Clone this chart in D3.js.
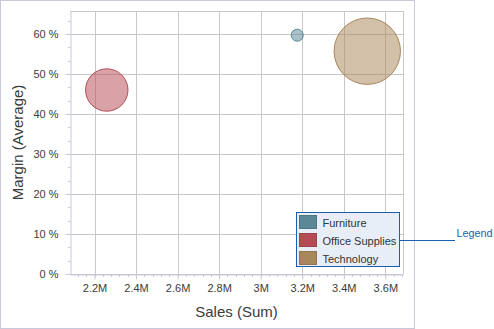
<!DOCTYPE html>
<html>
<head>
<meta charset="utf-8">
<script src="https://cdn.jsdelivr.net/npm/d3@7"></script>
<style>
  html, body { margin: 0; padding: 0; background: #fff; }
  svg { display: block; font-family: "Liberation Sans", Arial, sans-serif; }
</style>
</head>
<body>
<svg id="chart" width="494" height="329"></svg>
<script>
// Bubble chart: average margin vs. total sales per product category
const categories = ["Furniture", "Office Supplies", "Technology"];
const sales = [3.176e6, 2.259e6, 3.513e6];        // Sales (Sum)
const margins = [0.597, 0.46, 0.557];             // Margin (Average)
const weights = [12, 42.4, 66.4];                 // bubble size
const colors = ["#5b8896", "#b44c56", "#a8875a"];

const xTicks = [2.2e6, 2.4e6, 2.6e6, 2.8e6, 3.0e6, 3.2e6, 3.4e6, 3.6e6];
const xTickLabels = ["2.2M", "2.4M", "2.6M", "2.8M", "3M", "3.2M", "3.4M", "3.6M"];
const yTicks = [0, 0.1, 0.2, 0.3, 0.4, 0.5, 0.6];
const yTickLabels = ["0 %", "10 %", "20 %", "30 %", "40 %", "50 %", "60 %"];

const W = 494, H = 329;
const plot = { left: 70, top: 11, right: 403, bottom: 274 };

const svg = d3.select("#chart");

// outer frame
svg.append("rect")
  .attr("x", 0.5).attr("y", 0.5)
  .attr("width", 414).attr("height", 328)
  .attr("fill", "#fff").attr("stroke", "#c9c9dc");

const x = d3.scaleLinear().domain([2.082e6, 3.685e6]).range([plot.left, plot.right]);
const y = d3.scaleLinear().domain([0, 0.6575]).range([plot.bottom, plot.top]);
const r = d3.scaleLinear().domain([0, d3.max(weights)]).range([0, 33.2]);

const g = svg.append("g");

// grid
g.append("g").selectAll("line").data(xTicks).join("line")
  .attr("x1", d => Math.round(x(d)) + 0.5).attr("x2", d => Math.round(x(d)) + 0.5)
  .attr("y1", plot.top).attr("y2", plot.bottom)
  .attr("stroke", "#c8c8c8");
g.append("g").selectAll("line").data(yTicks).join("line")
  .attr("y1", d => Math.round(y(d)) + 0.5).attr("y2", d => Math.round(y(d)) + 0.5)
  .attr("x1", plot.left).attr("x2", plot.right)
  .attr("stroke", "#c8c8c8");
// plot top / right edges
g.append("line").attr("x1", plot.left).attr("x2", plot.right + 0.5)
  .attr("y1", plot.top + 0.5).attr("y2", plot.top + 0.5).attr("stroke", "#c8c8c8");
g.append("line").attr("x1", plot.right + 0.5).attr("x2", plot.right + 0.5)
  .attr("y1", plot.top).attr("y2", plot.bottom).attr("stroke", "#c8c8c8");

// minor ticks
const xMinor = d3.range(2.08e6, 3.69e6, 0.04e6).filter(v => x(v) >= plot.left && x(v) <= plot.right);
const yMinor = d3.range(0, 0.66, 0.1 / 3).filter(v => y(v) >= plot.top);

// x axis
const xAxis = d3.axisBottom(x).tickValues(xTicks)
  .tickFormat((d, i) => xTickLabels[i]).tickSize(5).tickSizeOuter(0).tickPadding(5);
const xa = g.append("g").attr("transform", `translate(0,${plot.bottom + 0.5})`).call(xAxis);
xa.select(".domain").attr("stroke", "#c9c9dc");
xa.selectAll(".tick line").attr("stroke", "#c9c9dc");
xa.selectAll("text").attr("font-size", 11).attr("fill", "#3b3b3b")
  .attr("font-family", "Liberation Sans, Arial, sans-serif");
xa.append("g").selectAll("line").data(xMinor).join("line")
  .attr("x1", d => Math.round(x(d)) + 0.5).attr("x2", d => Math.round(x(d)) + 0.5)
  .attr("y1", 0).attr("y2", 2.5).attr("stroke", "#c9c9dc");

// y axis
const yAxis = d3.axisLeft(y).tickValues(yTicks)
  .tickFormat((d, i) => yTickLabels[i]).tickSize(5).tickSizeOuter(0).tickPadding(7);
const ya = g.append("g").attr("transform", `translate(${plot.left + 0.5},0)`).call(yAxis);
ya.select(".domain").attr("stroke", "#c9c9dc");
ya.selectAll(".tick line").attr("stroke", "#c9c9dc");
ya.selectAll("text").attr("font-size", 11).attr("fill", "#3b3b3b")
  .attr("font-family", "Liberation Sans, Arial, sans-serif");
ya.append("g").selectAll("line").data(yMinor).join("line")
  .attr("y1", d => Math.round(y(d)) + 0.5).attr("y2", d => Math.round(y(d)) + 0.5)
  .attr("x1", 0).attr("x2", -2.5).attr("stroke", "#c9c9dc");

// axis titles
svg.append("text")
  .attr("x", (plot.left + plot.right) / 2).attr("y", 317)
  .attr("text-anchor", "middle").attr("font-size", 15).attr("fill", "#3b3b3b")
  .text("Sales (Sum)");
svg.append("text")
  .attr("transform", `translate(23,${(plot.top + plot.bottom) / 2}) rotate(-90)`)
  .attr("text-anchor", "middle").attr("font-size", 15).attr("fill", "#3b3b3b")
  .text("Margin (Average)");

// bubbles
const data = categories.map((c, i) => ({ c, s: sales[i], m: margins[i], w: weights[i], col: colors[i] }));
g.append("g").selectAll("circle").data(data).join("circle")
  .attr("cx", d => x(d.s)).attr("cy", d => y(d.m)).attr("r", d => r(d.w))
  .attr("fill", d => d.col).attr("fill-opacity", 0.52)
  .attr("stroke", d => d.col).attr("stroke-width", 1);

// legend
const lg = svg.append("g").attr("transform", "translate(296.5,212.5)");
lg.append("rect").attr("width", 103).attr("height", 54)
  .attr("fill", "#e8eef7").attr("stroke", "#1b5eb0");
const rows = lg.selectAll("g.item").data(data).join("g")
  .attr("class", "item").attr("transform", (d, i) => `translate(3,${3 + i * 18})`);
rows.append("rect").attr("x", 0).attr("y", 0).attr("width", 17).attr("height", 13)
  .attr("fill", d => d.col).attr("stroke", d => d3.color(d.col).darker(0.4));
rows.append("text").attr("x", 23).attr("y", 11)
  .attr("font-size", 11).attr("fill", "#333").text(d => d.c);

// legend callout
svg.append("line").attr("x1", 399.5).attr("x2", 455)
  .attr("y1", 240.5).attr("y2", 240.5).attr("stroke", "#1b5eb0");
svg.append("text").attr("x", 456.5).attr("y", 237)
  .attr("font-size", 10.8).attr("fill", "#1b5eb0").text("Legend");
</script>
</body>
</html>
